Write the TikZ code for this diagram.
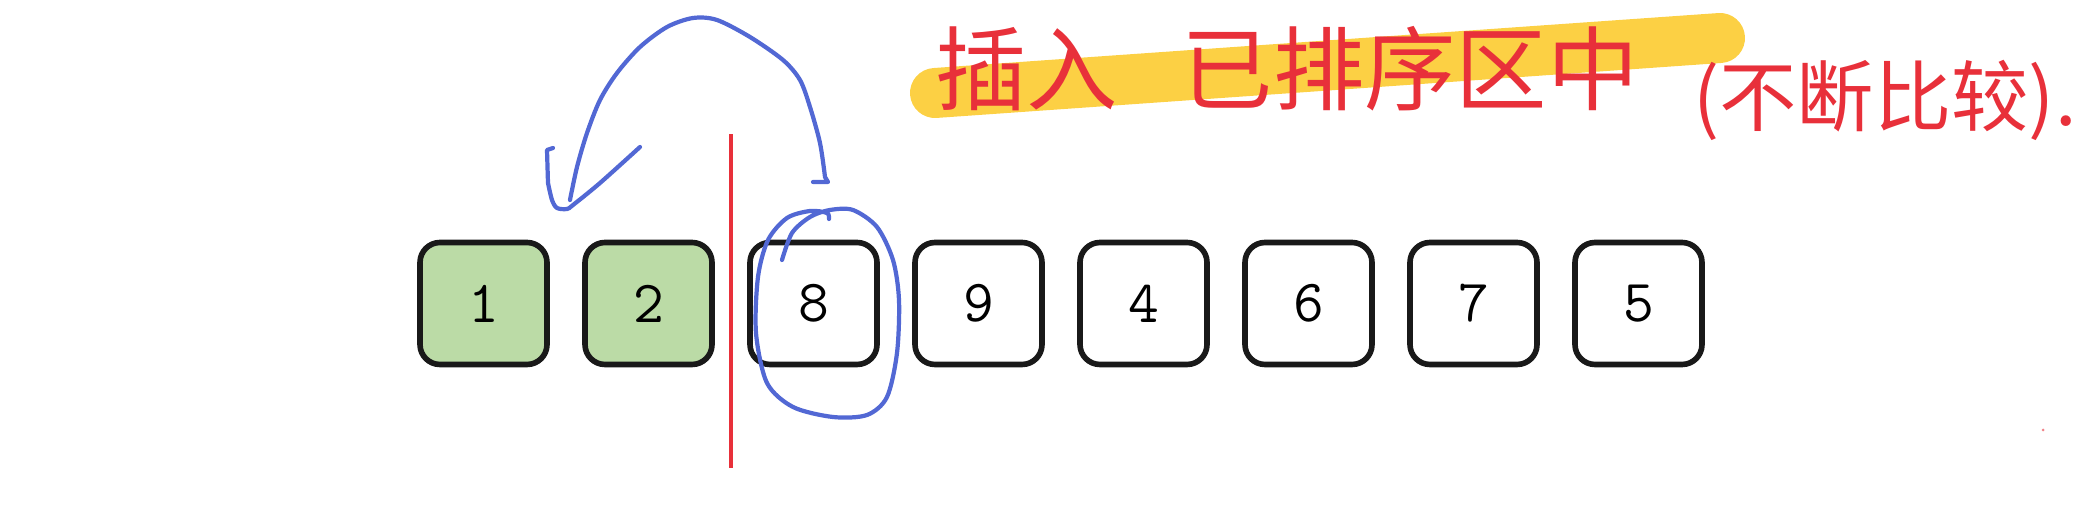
\documentclass[tikz,border=0pt]{standalone}
\usepackage{fontspec}
\newfontfamily\cjk{Noto Sans CJK SC}
\usepackage{tikz}
\usetikzlibrary{positioning, calc}
\usepackage{xcolor}
\definecolor{cellgreen}{RGB}{187,219,166}
\definecolor{penred}{RGB}{232,48,58}
\definecolor{penblue}{RGB}{82,104,212}
\definecolor{markyellow}{RGB}{252,206,58}

\begin{document}
\begin{tikzpicture}[
  cell/.style={draw=black!90, line width=1.6pt, rounded corners=0.2cm, minimum width=1.27cm, minimum height=1.22cm, inner sep=0pt, outer sep=0pt, font=\fontsize{17pt}{19pt}\selectfont\ttfamily},
  sorted/.style={cell, fill=cellgreen},
  pen/.style={penblue, line width=1.2pt, line cap=round, line join=round}]
  \useasboundingbox (0,0) rectangle (20.83,5.05);
  % array cells
  \node[sorted] (c1) at (4.835,2.015) {1};
  \node[sorted, right=0.38cm of c1] (c2) {2};
  \foreach \v [count=\i from 3] in {8,9,4,6,7,5} {
    \pgfmathtruncatemacro\p{\i-1}
    \node[cell, right=0.38cm of c\p] (c\i) {\v};
  }
  % sorted / unsorted boundary
  \coordinate (cut) at ($(c2.east)!0.5!(c3.west)$);
  \draw[penred, line width=1.1pt] ($(cut)+(0,1.69)$) -- ($(cut)+(0,-1.65)$);
  % blue pen strokes
  \coordinate (tipL) at (5.70,3.05);
  \coordinate (hookR) at (8.13,3.23);
  \draw[pen] plot[smooth] coordinates {(tipL) (5.77,3.38) (5.87,3.72) (6.00,4.05) (6.17,4.32) (6.40,4.58) (6.67,4.78) (6.93,4.87) (7.17,4.85) (7.50,4.68) (7.83,4.45) (8.00,4.25) (8.10,3.98) (8.20,3.62) (8.25,3.28)} -- (8.28,3.23) -- (hookR);
  \draw[pen] (5.53,3.57) -- (5.47,3.55) -- plot[smooth] coordinates {(5.48,3.22) (5.52,3.05) (5.57,2.97) (5.67,2.96) (5.73,3.00) (6.00,3.22) (6.40,3.58)};
  \draw[pen] plot[smooth] coordinates {(7.82,2.45) (7.92,2.72) (8.10,2.88) (8.30,2.95) (8.53,2.95) (8.77,2.78) (8.93,2.45) (8.99,2.05) (8.97,1.52) (8.87,1.08) (8.67,0.90) (8.33,0.88) (7.93,0.98) (7.67,1.22) (7.56,1.72) (7.58,2.28) (7.68,2.65) (7.87,2.87) (8.10,2.94) (8.27,2.92) (8.29,2.86)};
  % highlighted note
  \draw[markyellow, line width=0.5cm, line cap=round, opacity=0.95] (9.35,4.12) -- (17.20,4.67);
  \node[penred, font=\fontsize{26pt}{30pt}\selectfont\cjk] (title) at (12.87,4.36) {插入\hspace{0.7em}已排序区中};
  \node[penred, font=\fontsize{22pt}{26pt}\selectfont\cjk] (note) at (18.85,4.05) {(不断比较).};
  \fill[penred!60] (20.43,0.75) circle (0.015);
\end{tikzpicture}
\end{document}
